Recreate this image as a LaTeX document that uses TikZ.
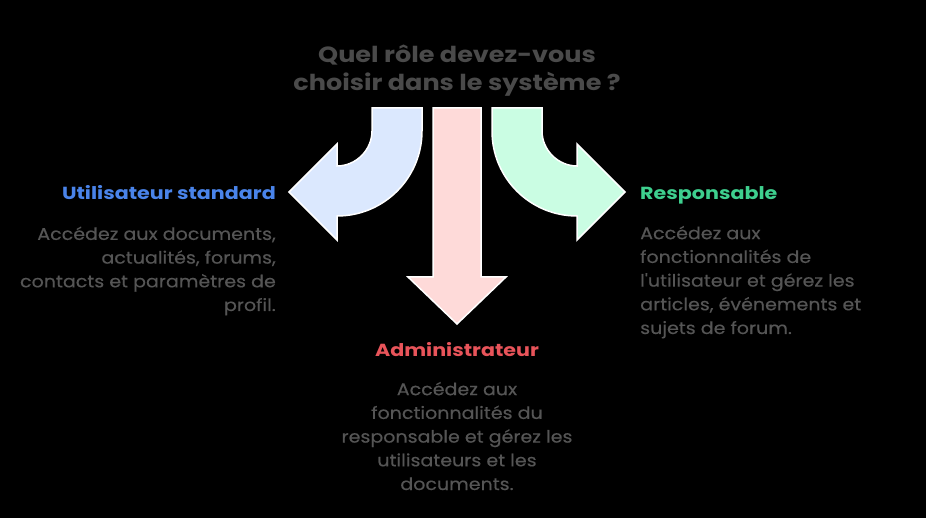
\documentclass[tikz,border=0pt]{standalone}
\usepackage{fontspec}
\setmainfont{Poppins}
\newfontfamily\titlefont[FakeStretch=1.16]{Poppins}
\newfontfamily\headfont[FakeStretch=1.18]{Poppins}
\newfontfamily\bodyfont[FakeStretch=1.12,FakeBold=0.4]{Poppins}
\definecolor{bgc}{HTML}{000000}
\definecolor{titlec}{HTML}{4A4A4A}
\definecolor{bodyc}{HTML}{555555}
\definecolor{bluet}{HTML}{4A84EA}
\definecolor{redt}{HTML}{E8545A}
\definecolor{greent}{HTML}{3ECF8E}
\definecolor{bluef}{HTML}{DBE8FE}
\definecolor{redf}{HTML}{FEDAD9}
\definecolor{greenf}{HTML}{CAFDE3}
\begin{document}
\begin{tikzpicture}[x=1pt,y=-1pt,
  arrowshape/.style={draw=white,line width=1.5pt,line join=miter},
  titletext/.style={font=\titlefont\fontsize{22}{28}\selectfont\bfseries,text=titlec,align=center,inner sep=0pt},
  headtext/.style={font=\headfont\fontsize{17.5}{20}\selectfont\bfseries,inner sep=0pt},
  bodytext/.style={font=\bodyfont\fontsize{17}{23.7}\selectfont,text=bodyc,inner sep=0pt}]
\fill[bgc] (0,0) rectangle (926,518);
\useasboundingbox (0,0) rectangle (926,518);
% blue arrow (left)
\draw[arrowshape,fill=bluef] (372,108) -- (422,108) -- (422,131)
  .. controls (422,178) and (384,216) .. (337,216)
  -- (337,240) -- (289,192) -- (337,144) -- (337,166)
  .. controls (356,166) and (372,150) .. (372,131) -- cycle;
% green arrow (right)
\draw[arrowshape,fill=greenf] (542,108) -- (492,108) -- (492,131)
  .. controls (492,178) and (530,216) .. (577,216)
  -- (577,240) -- (625,192) -- (577,144) -- (577,166)
  .. controls (558,166) and (542,150) .. (542,131) -- cycle;
% red arrow (down)
\draw[arrowshape,fill=redf] (433,108) -- (481,108) -- (481,277) -- (506,277)
  -- (457,324) -- (408,277) -- (433,277) -- cycle;
% title (base anchor = baseline of last line)
\node[titletext,anchor=base] (title) at (457,91) {Quel rôle devez-vous\\choisir dans le système ?};
% left
\node[headtext,text=bluet,anchor=base east] (userh) at (276,200) {Utilisateur standard};
\node[bodytext,anchor=base east,align=right] (userb) at (276,311)
  {Accédez aux documents,\\actualités, forums,\\contacts et paramètres de\\profil.};
% right
\node[headtext,text=greent,anchor=base west] (resph) at (640,200) {Responsable};
\node[bodytext,anchor=base west,align=left] (respb) at (640,334)
  {Accédez aux\\fonctionnalités de\\l'utilisateur et gérez les\\articles, événements et\\sujets de forum.};
% bottom
\node[headtext,text=redt,anchor=base] (admh) at (457,357) {Administrateur};
\node[bodytext,anchor=base,align=center] (admb) at (457,490)
  {Accédez aux\\fonctionnalités du\\responsable et gérez les\\utilisateurs et les\\documents.};
\end{tikzpicture}
\end{document}
